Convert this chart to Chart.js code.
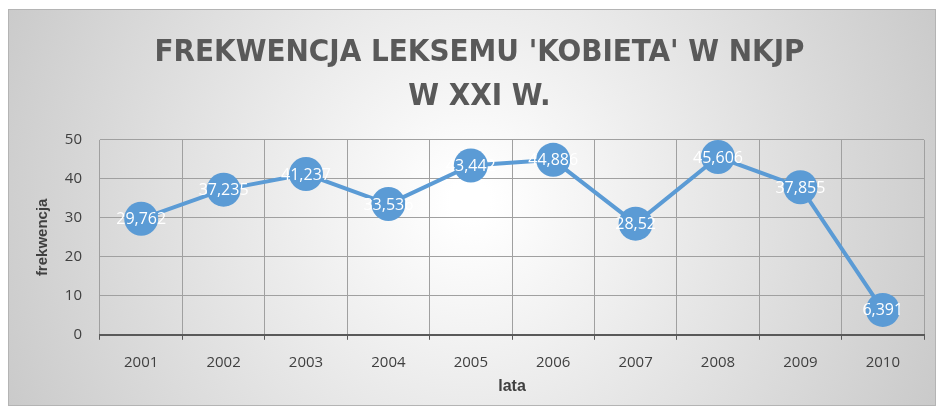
<!DOCTYPE html>
<html lang="pl">
<head>
<meta charset="UTF-8">
<title>Frekwencja leksemu 'kobieta'</title>
<script src="https://cdn.jsdelivr.net/npm/chart.js"></script>
<style>
  html, body { margin: 0; padding: 0; background: #fff; }
  #wrap { width: 941px; height: 415px; }
</style>
</head>
<body>
<div id="wrap"><canvas id="wykres" width="941" height="415"></canvas></div>
<script>
// dane
const lata = ['2001', '2002', '2003', '2004', '2005', '2006', '2007', '2008', '2009', '2010'];
const frekwencja = [29.762, 37.235, 41.237, 33.536, 43.442, 44.886, 28.52, 45.606, 37.855, 6.391];
const tytul = ["FREKWENCJA LEKSEMU 'KOBIETA' W NKJP", 'W XXI W.'];

const szary = '#595959';

// tlo z gradientem i ramka
const tlo = {
  id: 'tlo',
  beforeDraw(chart) {
    const ctx = chart.ctx;
    ctx.save();
    ctx.fillStyle = '#fff';
    ctx.fillRect(0, 0, chart.width, chart.height);
    const g = ctx.createRadialGradient(470, 200, 20, 470, 200, 560);
    g.addColorStop(0, '#ffffff');
    g.addColorStop(1, '#c4c4c4');
    ctx.fillStyle = g;
    ctx.fillRect(8, 9, 928, 397);
    ctx.strokeStyle = '#b4b4b4';
    ctx.lineWidth = 1;
    ctx.strokeRect(8.5, 9.5, 927, 396);
    ctx.restore();
  }
};

// etykiety danych na punktach
const etykiety = {
  id: 'etykiety',
  afterDatasetsDraw(chart) {
    const ctx = chart.ctx;
    const meta = chart.getDatasetMeta(0);
    ctx.save();
    ctx.font = '16px "Open Sans", sans-serif';
    ctx.fillStyle = '#fff';
    ctx.textAlign = 'center';
    ctx.textBaseline = 'middle';
    meta.data.forEach(function (pt, i) {
      const txt = String(frekwencja[i]).replace('.', ',');
      ctx.fillText(txt, pt.x, pt.y + 1);
    });
    ctx.restore();
  }
};

new Chart(document.getElementById('wykres'), {
  type: 'line',
  data: {
    labels: lata,
    datasets: [{
      data: frekwencja,
      borderColor: '#5B9BD5',
      backgroundColor: '#5B9BD5',
      borderWidth: 4,
      pointRadius: 17,
      pointHoverRadius: 17,
      pointBorderWidth: 0,
      tension: 0
    }]
  },
  options: {
    responsive: false,
    animation: false,
    layout: { padding: { left: 34, right: 16, top: 30, bottom: 19 } },
    plugins: {
      legend: { display: false },
      tooltip: { enabled: false },
      title: {
        display: true,
        text: tytul,
        color: szary,
        font: { family: '"Liberation Sans Narrow", "DejaVu Sans Condensed", sans-serif', size: 31, weight: 'bold', lineHeight: 1.45 },
        padding: { top: 0, bottom: 20 }
      }
    },
    scales: {
      x: {
        offset: true,
        grid: { offset: true, color: '#a0a0a0', tickColor: szary, tickLength: 5 },
        border: { color: szary, width: 2 },
        ticks: { color: '#404040', font: { family: '"Open Sans", sans-serif', size: 15 }, padding: 14 },
        title: { display: true, text: 'lata', color: '#404040', font: { family: '"Liberation Sans Narrow", sans-serif', size: 16, weight: 'bold' }, padding: { top: -9, bottom: 0 } }
      },
      y: {
        min: 0,
        max: 50,
        ticks: { stepSize: 10, color: '#404040', font: { family: '"Open Sans", sans-serif', size: 15 }, padding: 18 },
        grid: { color: '#a0a0a0', drawTicks: false },
        border: { display: false },
        title: { display: true, text: 'frekwencja', color: '#404040', font: { family: '"Liberation Sans Narrow", sans-serif', size: 15, weight: 'bold' }, padding: { top: 0, bottom: 6 } },
        afterFit(s) { s.width = 66; }
      }
    }
  },
  plugins: [tlo, etykiety]
});
</script>
</body>
</html>
